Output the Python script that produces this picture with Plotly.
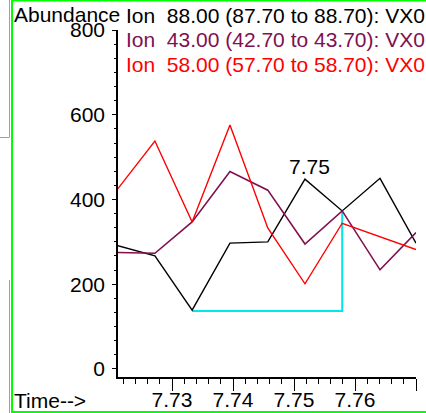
import plotly.graph_objects as go

# Retention time (min) of each scan
times = [7.7211, 7.7272, 7.7333, 7.7395, 7.7457, 7.7518, 7.7579, 7.7641, 7.7700]

# Extracted ion abundances
ion88 = [291, 267, 139, 297, 300, 448, 373, 450, 297]
ion43 = [275, 273, 347, 466, 422, 295, 373, 234, 322]
ion58 = [425, 538, 347, 576, 333, 201, 344, 312, 282]

# Integration baseline of the peak
base_t = [7.7333, 7.7579, 7.7579]
base_v = [137, 137, 373]

peak_rt = 7.75
peak_label_y = 477

legend_rows = [
    ("Ion&nbsp; 88.00 (87.70 to 88.70): VX0", "#000000"),
    ("Ion&nbsp; 43.00 (42.70 to 43.70): VX0", "#801050"),
    ("Ion&nbsp; 58.00 (57.70 to 58.70): VX0", "#ff0000"),
]

W, H = 426, 413
FONT = "Liberation Sans, Arial, Helvetica, sans-serif"
FS = 21


def px(x):
    return x / W


def py(y):
    return 1 - y / H


fig = go.Figure()
fig.add_trace(go.Scatter(x=base_t, y=base_v, mode="lines",
                         line=dict(color="#00e8e8", width=2)))
fig.add_trace(go.Scatter(x=times, y=ion88, mode="lines",
                         line=dict(color="#000000", width=1.4)))
fig.add_trace(go.Scatter(x=times, y=ion43, mode="lines",
                         line=dict(color="#801050", width=1.6)))
fig.add_trace(go.Scatter(x=times, y=ion58, mode="lines",
                         line=dict(color="#ff0000", width=1.4)))

fig.update_layout(
    width=W, height=H,
    margin=dict(l=0, r=0, t=0, b=0, pad=0),
    paper_bgcolor="white", plot_bgcolor="white",
    showlegend=False,
    font=dict(family=FONT, size=FS, color="black"),
    xaxis=dict(
        domain=[px(118), px(416)],
        range=[7.721148, 7.77],
        automargin=False,
        showgrid=False, zeroline=False,
        showline=True, linecolor="black", linewidth=1.5,
        ticks="outside", ticklen=12, tickwidth=1.2, tickcolor="black",
        tick0=7.73, dtick=0.01, tickformat=".2f",
        tickfont=dict(family=FONT, size=FS),
        ticklabelstandoff=-9,
        minor=dict(dtick=0.002, ticks="outside", ticklen=5,
                   tickwidth=1.2, tickcolor="black"),
    ),
    yaxis=dict(
        domain=[py(377), py(30)],
        range=[-18.9, 800],
        automargin=False,
        showgrid=False, zeroline=False,
        showline=True, linecolor="black", linewidth=1.5,
        ticks="outside", ticklen=4, tickwidth=1.2, tickcolor="black",
        tick0=0, dtick=200,
        tickfont=dict(family=FONT, size=FS),
        ticklabelstandoff=3,
        minor=dict(dtick=200 / 6, ticks="outside", ticklen=2,
                   tickwidth=1, tickcolor="black"),
    ),
)

annotations = [
    dict(x=px(12), y=py(14), xref="paper", yref="paper", text="Abundance",
         xanchor="left", yanchor="middle", showarrow=False,
         font=dict(family=FONT, size=FS, color="black")),
    dict(x=px(12), y=py(400), xref="paper", yref="paper", text="Time-->",
         xanchor="left", yanchor="middle", showarrow=False,
         font=dict(family=FONT, size=FS, color="black")),
    dict(x=peak_rt + 0.0026, y=peak_label_y, xref="x", yref="y",
         text=f"{peak_rt:.2f}", xanchor="center", yanchor="middle",
         showarrow=False, font=dict(family=FONT, size=FS, color="black")),
]
for i, (txt, col) in enumerate(legend_rows):
    annotations.append(dict(
        x=px(124), y=py(15 + 24.5 * i), xref="paper", yref="paper",
        text=txt, xanchor="left", yanchor="middle", showarrow=False,
        font=dict(family=FONT, size=FS, color=col)))
fig.update_layout(annotations=annotations)

# Window frame lines
shapes = [
    dict(type="line", xref="paper", yref="paper", x0=px(12), x1=px(12),
         y0=py(0), y1=py(413), line=dict(color="#00ff00", width=2)),
    dict(type="line", xref="paper", yref="paper", x0=px(11), x1=px(426),
         y0=py(0.5), y1=py(0.5), line=dict(color="#00ff00", width=2)),
    dict(type="line", xref="paper", yref="paper", x0=px(11), x1=px(426),
         y0=py(412), y1=py(412), line=dict(color="#00ff00", width=2)),
    dict(type="line", xref="paper", yref="paper", x0=px(9.5), x1=px(9.5),
         y0=py(0), y1=py(137), line=dict(color="#a0a0a0", width=1)),
    dict(type="line", xref="paper", yref="paper", x0=px(0), x1=px(9.5),
         y0=py(137.5), y1=py(137.5), line=dict(color="#a0a0a0", width=1)),
    dict(type="line", xref="paper", yref="paper", x0=px(9.5), x1=px(9.5),
         y0=py(280), y1=py(413), line=dict(color="#a0a0a0", width=1)),
]
fig.update_layout(shapes=shapes)

fig.write_html("out.html")
